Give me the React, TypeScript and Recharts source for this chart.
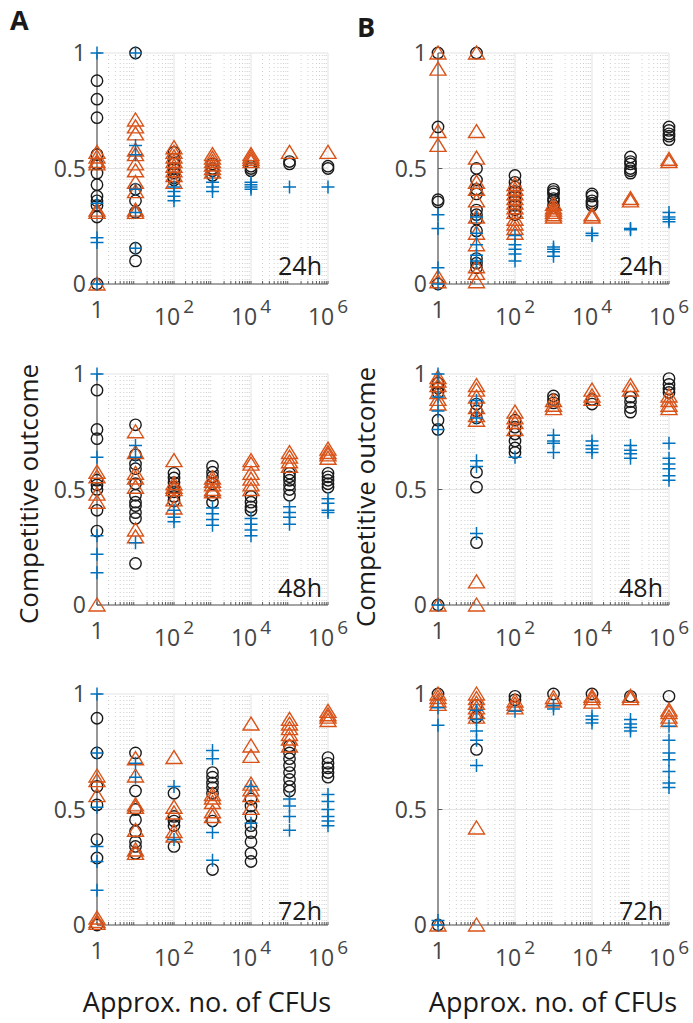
import {
  CartesianGrid,
  ReferenceLine,
  Scatter,
  ScatterChart,
  XAxis,
  YAxis,
} from "recharts";

// x positions (approx. CFUs) shared by every panel
const xPositions = [1, 10, 100, 1000, 10000, 100000, 1000000];
const xTicks = [1, 100, 10000, 1000000];
const yTicks = [0, 0.5, 1];
const timeLabels = ["24h", "48h", "72h"];

// each list holds the values at x = 1, 10, 1e2, 1e3, 1e4, 1e5, 1e6
const a24Circles = [
  [0.88, 0.8, 0.72, 0.56, 0.52, 0.48, 0.43, 0.38, 0.36, 0.34, 0.29, 0],
  [1.0, 0.41, 0.36, 0.31, 0.155, 0.1],
  [0.57, 0.54, 0.52, 0.5, 0.48, 0.46, 0.45],
  [0.52, 0.5, 0.49, 0.47],
  [0.51, 0.5, 0.49],
  [0.53, 0.52],
  [0.51, 0.5],
];
const a24Triangles = [
  [0.57, 0.55, 0.53, 0.52, 0.32, 0.31, 0],
  [0.71, 0.68, 0.65, 0.58, 0.56, 0.52, 0.49, 0.44, 0.4, 0.32, 0.31],
  [0.59, 0.57, 0.55, 0.53, 0.51, 0.49, 0.47, 0.44],
  [0.56, 0.545, 0.53, 0.515, 0.5, 0.485],
  [0.56, 0.55, 0.54, 0.53],
  [0.57],
  [0.57],
];
const a24Crosses = [
  [1.0, 0.35, 0.2, 0.18, 0],
  [1.0, 0.6, 0.56, 0.41, 0.31, 0.155],
  [0.42, 0.4, 0.38, 0.36],
  [0.44, 0.42, 0.4],
  [0.44, 0.43, 0.42, 0.41],
  [0.42],
  [0.42],
];

const b24Circles = [
  [1.0, 0.68, 0.365, 0.355, 0],
  [1.0, 0.5, 0.45, 0.41, 0.39, 0.32, 0.3, 0.28, 0.23, 0.11, 0.09, 0.07],
  [0.47, 0.44, 0.42, 0.4, 0.38, 0.36, 0.34, 0.32, 0.3],
  [0.41, 0.4, 0.39, 0.37, 0.36, 0.34, 0.33],
  [0.39, 0.38, 0.36, 0.35, 0.34],
  [0.55, 0.53, 0.52, 0.5, 0.49, 0.48],
  [0.68, 0.665, 0.65, 0.64, 0.625],
];
const b24Triangles = [
  [1.0, 0.93, 0.66, 0.6, 0.03, 0.01],
  [1.0, 0.66, 0.545, 0.44, 0.41, 0.36, 0.29, 0.22, 0.17, 0.075, 0.046, 0.01],
  [0.43, 0.41, 0.39, 0.37, 0.35, 0.33, 0.31, 0.28, 0.26, 0.24, 0.22],
  [0.345, 0.33, 0.32, 0.31, 0.3, 0.29],
  [0.3, 0.29],
  [0.37, 0.36],
  [0.54, 0.53],
];
const b24Crosses = [
  [0.3, 0.24, 0.07, 0],
  [0.29, 0.22, 0.17, 0.125, 0.1],
  [0.21, 0.17, 0.15, 0.13, 0.1],
  [0.16, 0.15, 0.14, 0.12],
  [0.22, 0.21],
  [0.24, 0.235],
  [0.31, 0.29, 0.28, 0.27],
];

const a48Circles = [
  [0.93, 0.76, 0.72, 0.54, 0.52, 0.5, 0.41, 0.32],
  [0.78, 0.65, 0.61, 0.59, 0.525, 0.475, 0.445, 0.43, 0.4, 0.375, 0.18],
  [0.57, 0.55, 0.53, 0.51, 0.49, 0.47, 0.45],
  [0.6, 0.575, 0.555, 0.525, 0.475, 0.445],
  [0.47, 0.445, 0.425, 0.41],
  [0.57, 0.555, 0.54, 0.52, 0.5, 0.475],
  [0.57, 0.555, 0.54, 0.525, 0.51],
];
const a48Triangles = [
  [0.575, 0.555, 0.48, 0.445, 0],
  [0.75, 0.66, 0.57, 0.55, 0.51, 0.325, 0.295],
  [0.625, 0.525, 0.51, 0.5, 0.455, 0.42],
  [0.55, 0.535, 0.52, 0.5, 0.49],
  [0.625, 0.61, 0.57, 0.545, 0.52, 0.5],
  [0.66, 0.64, 0.62, 0.6],
  [0.675, 0.66, 0.65, 0.635],
];
const a48Crosses = [
  [1.0, 0.64, 0.3, 0.22, 0.14],
  [0.69, 0.64, 0.27],
  [0.41, 0.38, 0.36],
  [0.42, 0.395, 0.37, 0.345],
  [0.375, 0.35, 0.325, 0.3],
  [0.425, 0.4, 0.38, 0.35],
  [0.46, 0.44, 0.41, 0.4],
];

const b48Circles = [
  [0.96, 0.94, 0.92, 0.8, 0.76, 0],
  [0.87, 0.84, 0.81, 0.575, 0.51, 0.27],
  [0.8, 0.77, 0.74, 0.71, 0.68, 0.66],
  [0.905, 0.89, 0.875],
  [0.89, 0.87],
  [0.9, 0.88, 0.855, 0.835],
  [0.98, 0.955, 0.935, 0.92],
];
const b48Triangles = [
  [0.985, 0.97, 0.95, 0.92, 0.89, 0.87, 0],
  [0.95, 0.93, 0.9, 0.855, 0.82, 0.8, 0.1, 0],
  [0.835, 0.81, 0.79, 0.76],
  [0.885, 0.865, 0.85],
  [0.93, 0.905, 0.89],
  [0.95, 0.93],
  [0.905, 0.885, 0.865, 0.85],
];
const b48Crosses = [
  [1.0, 0.9, 0.84, 0.76, 0],
  [0.885, 0.81, 0.625, 0.6, 0.31],
  [0.64],
  [0.735, 0.71, 0.7, 0.66],
  [0.71, 0.69, 0.675, 0.66],
  [0.69, 0.67, 0.655, 0.635],
  [0.7, 0.635, 0.61, 0.59, 0.56, 0.54],
];

const a72Circles = [
  [0.895, 0.745, 0.6, 0.52, 0.37, 0.29, 0],
  [0.745, 0.58, 0.5, 0.455, 0.405, 0.36, 0.34, 0.31],
  [0.57, 0.47, 0.45, 0.43, 0.34],
  [0.66, 0.64, 0.615, 0.595, 0.57, 0.45, 0.24],
  [0.545, 0.515, 0.47, 0.43, 0.4, 0.36, 0.31, 0.275],
  [0.775, 0.745, 0.72, 0.69, 0.66, 0.63, 0.6, 0.58],
  [0.725, 0.7, 0.68, 0.66, 0.64],
];
const a72Triangles = [
  [0.645, 0.625, 0.56, 0.03, 0.015, 0.007],
  [0.72, 0.645, 0.52, 0.51, 0.41, 0.325, 0.31],
  [0.725, 0.51, 0.485, 0.405, 0.385],
  [0.565, 0.55, 0.53, 0.49, 0.47],
  [0.87, 0.775, 0.73, 0.61, 0.585, 0.56, 0.505],
  [0.89, 0.87, 0.85, 0.825, 0.805, 0.775],
  [0.925, 0.91, 0.9, 0.885],
];
const a72Crosses = [
  [1.0, 0.745, 0.51, 0.34, 0.275, 0.15],
  [0.7, 0.64],
  [0.6, 0.37],
  [0.755, 0.72, 0.4, 0.28],
  [0.6, 0.44],
  [0.545, 0.515, 0.47, 0.41],
  [0.565, 0.535, 0.5, 0.47, 0.45, 0.43],
];

const b72Circles = [
  [1.0, 0],
  [0.95, 0.9, 0.76],
  [0.99, 0.975],
  [1.0],
  [1.0],
  [0.99],
  [0.99],
];
const b72Triangles = [
  [1.0, 0.985, 0.97, 0.955, 0],
  [1.0, 0.98, 0.96, 0.94, 0.92, 0.9, 0.42, 0],
  [0.97, 0.955, 0.94],
  [0.985, 0.97],
  [0.99, 0.98, 0.965],
  [0.99, 0.98],
  [0.93, 0.92, 0.9, 0.885],
];
const b72Crosses = [
  [0.94, 0.865, 0.02, 0],
  [0.93, 0.89, 0.84, 0.8, 0.69],
  [0.925],
  [0.95, 0.935],
  [0.905, 0.89, 0.875],
  [0.89, 0.87, 0.855, 0.84],
  [0.86, 0.8, 0.745, 0.715, 0.665, 0.615, 0.595],
];

const FONT = "'Open Sans', 'Noto Sans', sans-serif";
const BLACK = "#1a1a1a";
const ORANGE = "#D95319";
const BLUE = "#0072BD";
const AXIS = "#5a5a5a";
const TICK_TEXT = "#454545";

const PLOT = 231;
const Y_AXIS_W = 50;
const X_AXIS_H = 50;
const MARGIN = { top: 20, right: 24, bottom: 0, left: 0 };
const PLOT_BOTTOM = MARGIN.top + PLOT;

const toPoints = (cols: number[][]) =>
  cols.flatMap((col, i) => col.map((y) => ({ x: xPositions[i], y })));

// minor log-grid positions 2..9 x 10^k
const minorX: number[] = [];
for (let k = 0; k < 6; k++) {
  for (let m = 2; m <= 9; m++) minorX.push(m * Math.pow(10, k));
}

const CircleMark = (props: any) => (
  <circle cx={props.cx} cy={props.cy} r={5.7} fill="none" stroke={BLACK} strokeWidth={1.4} />
);

const TriangleMark = (props: any) => {
  const { cx, cy } = props;
  return (
    <polygon
      points={`${cx},${cy - 7} ${cx - 8},${cy + 6} ${cx + 8},${cy + 6}`}
      fill="none"
      stroke={ORANGE}
      strokeWidth={1.4}
    />
  );
};

const CrossMark = (props: any) => {
  const { cx, cy } = props;
  return (
    <path
      d={`M${cx - 6.5},${cy}H${cx + 6.5}M${cx},${cy - 6.5}V${cy + 6.5}`}
      stroke={BLUE}
      strokeWidth={1.5}
      fill="none"
    />
  );
};

const XTick = (props: any) => {
  const { x, payload } = props;
  const v = payload.value as number;
  if (v === 1) {
    return (
      <text x={x} y={PLOT_BOTTOM + 34} textAnchor="middle" fontSize={23} fill={TICK_TEXT} fontFamily={FONT}>
        1
      </text>
    );
  }
  const exp = Math.round(Math.log10(v));
  return (
    <text x={x} y={PLOT_BOTTOM + 41} textAnchor="middle" fontSize={23} fill={TICK_TEXT} fontFamily={FONT}>
      10
      <tspan dx={3} dy={-12} fontSize={19}>
        {exp}
      </tspan>
    </text>
  );
};

const YTick = (props: any) => {
  const { y, payload } = props;
  return (
    <text
      x={Y_AXIS_W - 11}
      y={y}
      dy={8}
      textAnchor="end"
      fontSize={23}
      fill={TICK_TEXT}
      fontFamily={FONT}
    >
      {String(payload.value)}
    </text>
  );
};

interface PanelProps {
  left: number;
  top: number;
  circles: number[][];
  triangles: number[][];
  crosses: number[][];
}

const Panel = ({ left, top, circles, triangles, crosses }: PanelProps) => (
  <div style={{ position: "absolute", left: left - Y_AXIS_W, top: top - MARGIN.top }}>
    <ScatterChart
      width={Y_AXIS_W + PLOT + MARGIN.right}
      height={MARGIN.top + PLOT + X_AXIS_H}
      margin={MARGIN}
    >
      <CartesianGrid stroke="#e3e3e3" strokeWidth={1} />
      {minorX.map((v) => (
        <ReferenceLine key={`g${v}`} x={v} stroke="#cfcfcf" strokeDasharray="1 3" />
      ))}
      <XAxis
        dataKey="x"
        type="number"
        scale="log"
        domain={[1, 1000000]}
        ticks={xTicks}
        interval={0}
        height={X_AXIS_H}
        axisLine={{ stroke: AXIS, strokeWidth: 1.2 }}
        tickLine={false}
        tick={<XTick />}
      />
      <YAxis
        dataKey="y"
        type="number"
        domain={[0, 1]}
        ticks={yTicks}
        interval={0}
        width={Y_AXIS_W}
        axisLine={{ stroke: AXIS, strokeWidth: 1.2 }}
        tickLine={false}
        tick={<YTick />}
      />
      {[...minorX, ...xTicks].map((v) => (
        <ReferenceLine
          key={`t${v}`}
          segment={[
            { x: v, y: 0 },
            { x: v, y: 0.013 },
          ]}
          stroke={AXIS}
        />
      ))}
      {yTicks.map((v) => (
        <ReferenceLine
          key={`y${v}`}
          segment={[
            { x: 1, y: v },
            { x: 1.3, y: v },
          ]}
          stroke={AXIS}
        />
      ))}
      <Scatter data={toPoints(circles)} shape={<CircleMark />} isAnimationActive={false} />
      <Scatter data={toPoints(triangles)} shape={<TriangleMark />} isAnimationActive={false} />
      <Scatter data={toPoints(crosses)} shape={<CrossMark />} isAnimationActive={false} />
    </ScatterChart>
  </div>
);

const colLeft = [97, 438];
const rowTop = [53, 374, 694];
const rowBaseline = [275, 597, 920];

const panels = [
  { col: 0, row: 0, circles: a24Circles, triangles: a24Triangles, crosses: a24Crosses },
  { col: 1, row: 0, circles: b24Circles, triangles: b24Triangles, crosses: b24Crosses },
  { col: 0, row: 1, circles: a48Circles, triangles: a48Triangles, crosses: a48Crosses },
  { col: 1, row: 1, circles: b48Circles, triangles: b48Triangles, crosses: b48Crosses },
  { col: 0, row: 2, circles: a72Circles, triangles: a72Triangles, crosses: a72Crosses },
  { col: 1, row: 2, circles: b72Circles, triangles: b72Triangles, crosses: b72Crosses },
];

export default function App() {
  return (
    <div
      style={{
        position: "absolute",
        left: 0,
        top: 0,
        width: 693,
        height: 1023,
        background: "#fff",
        fontFamily: FONT,
      }}
    >
      {panels.map((p) => (
        <Panel
          key={`${p.col}-${p.row}`}
          left={colLeft[p.col]}
          top={rowTop[p.row]}
          circles={p.circles}
          triangles={p.triangles}
          crosses={p.crosses}
        />
      ))}
      <svg
        width={693}
        height={1023}
        style={{ position: "absolute", left: 0, top: 0, pointerEvents: "none" }}
      >
        <text x={10} y={30} fontSize={27} fontWeight={700} fill={BLACK} fontFamily={FONT}>
          A
        </text>
        <text x={357} y={37} fontSize={27} fontWeight={700} fill={BLACK} fontFamily={FONT}>
          B
        </text>
        {panels.map((p) => (
          <text
            key={`lab${p.col}-${p.row}`}
            x={colLeft[p.col] + PLOT - 6}
            y={rowBaseline[p.row]}
            textAnchor="end"
            fontSize={25}
            fill={BLACK}
            fontFamily={FONT}
          >
            {timeLabels[p.row]}
          </text>
        ))}
        <text
          x={38}
          y={494}
          transform="rotate(-90 38 494)"
          textAnchor="middle"
          fontSize={26}
          fill={BLACK}
          fontFamily={FONT}
        >
          Competitive outcome
        </text>
        <text
          x={375}
          y={497}
          transform="rotate(-90 375 497)"
          textAnchor="middle"
          fontSize={26}
          fill={BLACK}
          fontFamily={FONT}
        >
          Competitive outcome
        </text>
        <text x={207} y={1012} textAnchor="middle" fontSize={27} fill={BLACK} fontFamily={FONT}>
          Approx. no. of CFUs
        </text>
        <text x={553} y={1012} textAnchor="middle" fontSize={27} fill={BLACK} fontFamily={FONT}>
          Approx. no. of CFUs
        </text>
      </svg>
    </div>
  );
}
